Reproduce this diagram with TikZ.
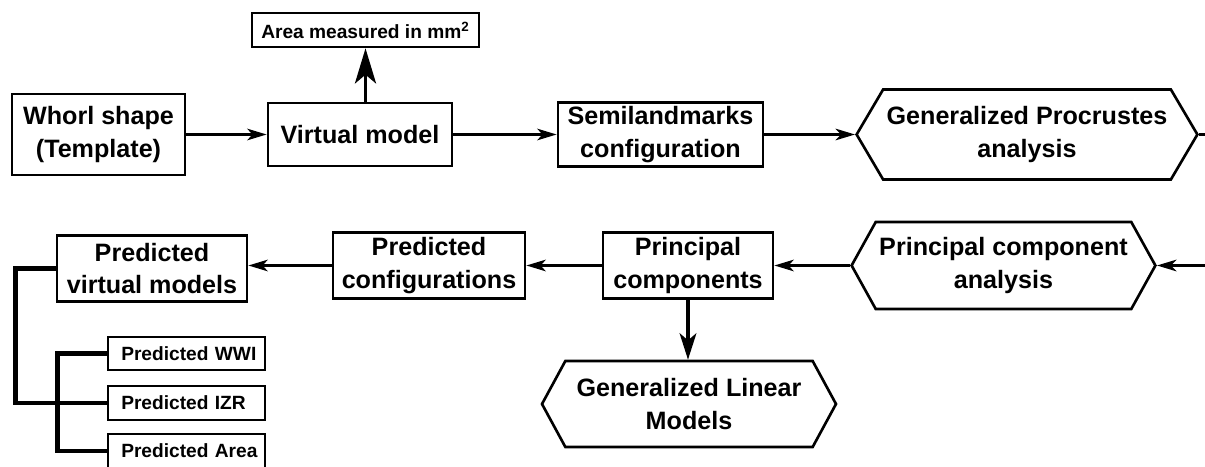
\documentclass[tikz,border=0pt]{standalone}
\usepackage{fontspec}
\setmainfont{Liberation Sans}
\usetikzlibrary{arrows.meta,shapes.symbols}

\begin{document}
\begin{tikzpicture}[
    box/.style={draw,line width=1.5pt,align=center,inner sep=2pt,
      font=\fontsize{14.3}{18.5}\selectfont\bfseries},
    hexbox/.style={box,signal,signal to=west and east,signal pointer angle=120},
    smallbox/.style={draw,line width=1.5pt,text width=2.87cm,align=left,inner xsep=0.135cm,
      minimum width=3.14cm,execute at begin node=\hspace*{0.13cm},
      font=\fontsize{10.9}{13}\selectfont\bfseries},
    arr/.style={line width=1.9pt,-{Stealth[length=11pt,width=6.5pt,inset=3pt]}},
    bigarr/.style={line width=1.9pt,-{Stealth[length=15pt,width=9.5pt,inset=4pt]}},
    bracket/.style={line width=2.8pt}]
  \useasboundingbox (0,0) rectangle (24.1,9.32);
  \clip (0,0) rectangle (24.1,9.32);
  \coordinate (rim) at (24.1,0);

  \node[box,minimum width=3.46cm,minimum height=1.62cm] (whorl) at (1.97,6.63) {Whorl shape\\(Template)};
  \node[box,minimum width=3.68cm,minimum height=1.26cm] (virt) at (7.20,6.63) {Virtual model};
  \node[box,minimum width=4.54cm,minimum height=0.68cm,font=\fontsize{10.9}{13}\selectfont\bfseries] (area) at (7.31,8.72) {Area measured in mm\textsuperscript{2}};
  \node[box,minimum width=4.10cm,minimum height=1.28cm] (semi) at (13.21,6.63) {Semilandmarks\\configuration};
  \node[hexbox,minimum width=6.56cm,minimum height=1.80cm,signal pointer angle=119] (gpa) at (20.54,6.63) {Generalized Procrustes\\analysis};

  \node[hexbox,minimum width=5.94cm,minimum height=1.74cm,signal pointer angle=122] (pca) at (20.07,4.01) {Principal component\\analysis};
  \node[box,minimum width=3.40cm,minimum height=1.32cm] (pc) at (13.76,4.01) {Principal\\components};
  \node[hexbox,minimum width=5.88cm,minimum height=1.72cm,signal pointer angle=123] (glm) at (13.78,1.24) {Generalized Linear\\Models};
  \node[box,minimum width=3.84cm,minimum height=1.32cm] (pconf) at (8.58,4.01) {Predicted\\configurations};
  \node[box,minimum width=3.80cm,minimum height=1.32cm] (pvirt) at (3.04,3.95) {Predicted\\virtual models};

  \node[smallbox,minimum height=0.66cm] (wwi) at (3.73,2.25) {Predicted WWI};
  \node[smallbox,minimum height=0.68cm] (izr) at (3.73,1.26) {Predicted IZR};
  \node[smallbox,minimum height=0.68cm] (parea) at (3.73,0.30) {Predicted~Area};

  \draw[arr] (whorl.east) -- (whorl.east -| virt.west);
  \draw[arr] (virt.east) -- (virt.east -| semi.west);
  \draw[arr] (semi.east) -- (gpa.west);
  \draw[line width=1.9pt] (gpa.east) -- (gpa.east -| rim);
  \draw[line width=1.9pt,-{Stealth[length=20pt,width=12pt,inset=5pt]}] (virt.north -| area.south) -- (area.south);
  \draw[arr] (pca.east -| rim) -- (pca.east);
  \draw[arr] (pca.west) -- (pc.east);
  \draw[arr] (pc.west) -- (pconf.east);
  \draw[arr] (pconf.west) -- (pconf.west -| pvirt.east);
  \draw[bigarr] (pc.south) -- (pc.south |- glm.north);

  \draw[bracket] (pvirt.west) -- ++(-0.80,0) |- (izr.west);
  \draw[bracket] (wwi.west) -- ++(-0.98,0) |- (parea.west);
\end{tikzpicture}
\end{document}
